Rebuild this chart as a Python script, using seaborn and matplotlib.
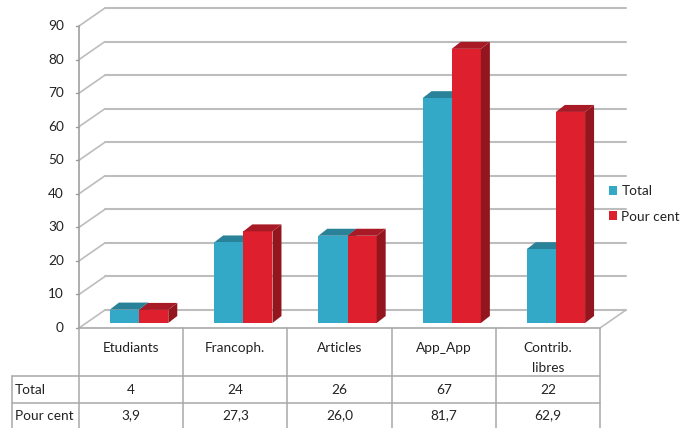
import numpy as np
import pandas as pd
import matplotlib
matplotlib.use("Agg")
import matplotlib.pyplot as plt
import matplotlib.transforms as mtransforms
from matplotlib.patches import Polygon, Patch
import seaborn as sns

categories = ["Etudiants", "Francoph.", "Articles", "App_App", "Contrib.\nlibres"]
total = [4, 24, 26, 67, 22]
pour_cent = [3.9, 27.3, 26.0, 81.7, 62.9]
series_names = ["Total", "Pour cent"]
yticks = list(range(0, 91, 10))

sns.set_theme(style="white")
plt.rcParams["font.family"] = ["Lato", "DejaVu Sans"]

TEAL, TEAL_TOP, TEAL_SIDE = "#33A9C7", "#2A8298", "#23707F"
RED, RED_TOP, RED_SIDE = "#DE1F2E", "#A91A27", "#93161F"
GRID = "#BDBDBD"
TABLE = "#A8A8A8"
TXT = "#222222"
FS = 9.8

W, H = 684, 428
fig = plt.figure(figsize=(W / 100, H / 100), dpi=100)
fig.patch.set_facecolor("white")


def fx(px):
    return px / W


def fy(py):
    return 1 - py / H


# front plane of the box: x spans the five categories, y spans 0..90
X0, X1, Y0, Y90 = 79, 600, 328, 26
ax_front = fig.add_axes([fx(X0), fy(Y0), (X1 - X0) / W, (Y0 - Y90) / H])
ax_front.set_xlim(-0.5, 4.5)
ax_front.set_ylim(0, 90)
ax_front.axis("off")

px_x = (X1 - X0) / 5.0          # pixels per category
px_y = (Y0 - Y90) / 90.0        # pixels per unit
wall_dx, wall_dy = 26 / px_x, 18 / px_y

# back wall gridlines and the slanted side-wall lines
for v in yticks:
    ax_front.plot([-0.5, -0.5 + wall_dx], [v, v + wall_dy], color=GRID, lw=1.2,
                  clip_on=False, zorder=1, solid_capstyle="butt")
    ax_front.plot([-0.5 + wall_dx, 4.5 + wall_dx], [v + wall_dy, v + wall_dy],
                  color=GRID, lw=1.5, clip_on=False, zorder=1)
    # tick mark and label on the front axis
    ax_front.plot([-0.5 - 3 / px_x, -0.5], [v, v], color="#999999", lw=1,
                  clip_on=False)
    ax_front.text(-0.5 - 15 / px_x, v, str(v), ha="right", va="center",
                  fontsize=FS, color=TXT)

# floor edges and front vertical axis
ax_front.plot([-0.5, 4.5], [0, 0], color=TABLE, lw=1.2, clip_on=False)
ax_front.plot([4.5, 4.5 + wall_dx], [0, wall_dy], color=GRID, lw=1.2, clip_on=False)
ax_front.plot([-0.5, -0.5], [0, 90], color="#A0A0A0", lw=1.2, clip_on=False)

# bars sit slightly inside the box
BX, BY = 8, 5
ax_bars = fig.add_axes([fx(X0 + BX), fy(Y0 - BY), (X1 - X0) / W, (Y0 - Y90) / H])
ax_bars.patch.set_alpha(0)

df = pd.DataFrame({
    "categorie": categories * 2,
    "serie": [series_names[0]] * len(total) + [series_names[1]] * len(pour_cent),
    "valeur": total + pour_cent,
})
sns.barplot(data=df, x="categorie", y="valeur", hue="serie",
            palette=[TEAL, RED], width=0.56, saturation=1, linewidth=0,
            ax=ax_bars, legend=False, zorder=2)
ax_bars.set_xlim(-0.5, 4.5)
ax_bars.set_ylim(0, 90)
ax_bars.axis("off")

bar_dx, bar_dy = 9 / px_x, 7 / px_y
faces = [(TEAL_TOP, TEAL_SIDE, 1.5), (RED_TOP, RED_SIDE, 3)]
for container, (top_c, side_c, z) in zip(ax_bars.containers, faces):
    for rect in container:
        x, w, h = rect.get_x(), rect.get_width(), rect.get_height()
        top = [(x, h), (x + w, h), (x + w + bar_dx, h + bar_dy), (x + bar_dx, h + bar_dy)]
        side = [(x + w, 0), (x + w + bar_dx, bar_dy), (x + w + bar_dx, h + bar_dy), (x + w, h)]
        ax_bars.add_patch(Polygon(side, closed=True, facecolor=side_c, lw=0,
                                  zorder=z, clip_on=False))
        ax_bars.add_patch(Polygon(top, closed=True, facecolor=top_c, lw=0,
                                  zorder=z, clip_on=False))

# data table under the chart
tr = mtransforms.blended_transform_factory(ax_front.transData, fig.transFigure)
left_x = -0.5 - (X0 - 12) / px_x
row_lines = [376, 403]
for i in range(6):
    ax_front.plot([-0.5 + i, -0.5 + i], [fy(328), fy(428)], transform=tr,
                  color=TABLE, lw=1.1, clip_on=False)
ax_front.plot([left_x, left_x], [fy(376), fy(428)], transform=tr,
              color=TABLE, lw=1.1, clip_on=False)
for r in row_lines:
    ax_front.plot([left_x, 4.5], [fy(r), fy(r)], transform=tr,
                  color=TABLE, lw=1.1, clip_on=False)

for i, cat in enumerate(categories):
    ax_front.text(i, fy(342), cat, transform=tr, ha="center", va="top",
                  fontsize=FS, color=TXT, linespacing=1.75)
    ax_front.text(i, fy(389.5), f"{total[i]}", transform=tr, ha="center",
                  va="center", fontsize=FS, color=TXT)
    ax_front.text(i, fy(415.5), f"{pour_cent[i]:.1f}".replace(".", ","),
                  transform=tr, ha="center", va="center", fontsize=FS, color=TXT)

ax_front.text(left_x + 3 / px_x, fy(389.5), series_names[0], transform=tr,
              ha="left", va="center", fontsize=FS, color=TXT)
ax_front.text(left_x + 3 / px_x, fy(415.5), series_names[1], transform=tr,
              ha="left", va="center", fontsize=FS, color=TXT)

# legend on the right
handles = [Patch(facecolor=TEAL, edgecolor="none"), Patch(facecolor=RED, edgecolor="none")]
fig.legend(handles, series_names, loc="upper left",
           bbox_to_anchor=(fx(609), fy(185)), frameon=False, fontsize=FS,
           handlelength=0.6, handleheight=0.6, handletextpad=0.3,
           labelspacing=1.0, borderpad=0, borderaxespad=0, labelcolor=TXT)

fig.savefig("out.png", dpi=100, facecolor="white")
